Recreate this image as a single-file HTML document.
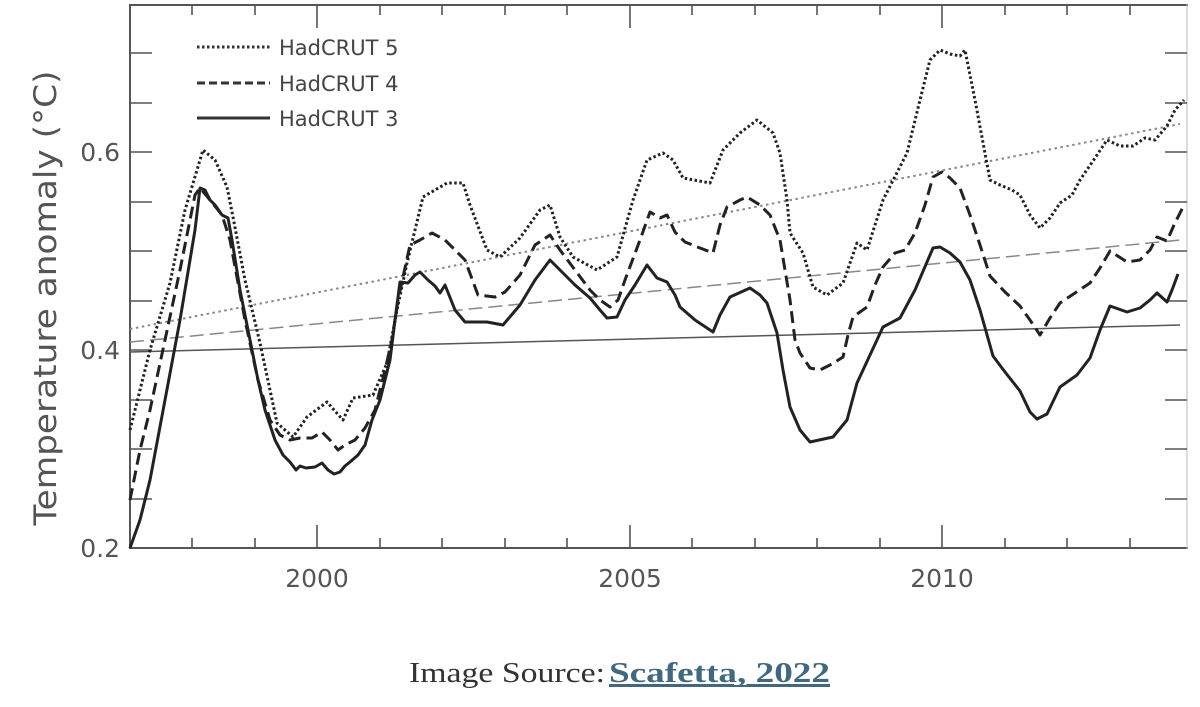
<!DOCTYPE html>
<html><head><meta charset="utf-8"><style>
html,body{margin:0;padding:0;background:#fff;width:1200px;height:707px;overflow:hidden}
svg{display:block}
</style></head><body>
<svg width="1200" height="707" viewBox="0 0 1200 707" xmlns="http://www.w3.org/2000/svg">
<g stroke="#555" stroke-width="2" fill="none">
<line x1="130" y1="4" x2="130" y2="549"/>
<line x1="129" y1="548" x2="1188" y2="548"/>
<line x1="129" y1="5" x2="1188" y2="5"/>
<line x1="1187" y1="4" x2="1187" y2="549" stroke="#bbb" stroke-width="1"/>
</g>
<g stroke="#555" stroke-width="1.6">
<path d="M130 53h22M130 103h22M130 152h22M130 202h22M130 251h22M130 301h22M130 350h22M130 400h22M130 449h22M130 499h22"/>
<path d="M1187 53h-22M1187 103h-22M1187 152h-22M1187 202h-22M1187 251h-22M1187 301h-22M1187 350h-22M1187 400h-22M1187 449h-22M1187 499h-22"/>
<path d="M192 548v-10M255 548v-10M317 548v-23M380 548v-10M442 548v-10M505 548v-10M567 548v-10M630 548v-23M692 548v-10M755 548v-10M817 548v-10M880 548v-10M942 548v-23M1005 548v-10M1067 548v-10M1130 548v-10"/>
<path d="M192 5v10M255 5v10M317 5v23M380 5v10M442 5v10M505 5v10M567 5v10M630 5v23M692 5v10M755 5v10M817 5v10M880 5v10M942 5v23M1005 5v10M1067 5v10M1130 5v10"/>
</g>
<g fill="none" stroke="#888" stroke-width="1.5">
<line x1="130" y1="352" x2="1180" y2="325" stroke="#555"/>
<line x1="130" y1="342" x2="1180" y2="240" stroke-dasharray="14,6"/>
<line x1="130" y1="329" x2="1180" y2="124" stroke-dasharray="2.5,3.5" stroke-width="2"/>
</g>
<g fill="none" stroke="#222" stroke-linejoin="round" stroke-linecap="butt">
<polyline stroke-width="3" points="130,548 140,520 150,480 165,400 180,320 195,230 200,188 205,190 210,200 215,205 222,215 228,218 232,240 240,290 250,340 258,380 265,410 275,440 283,455 290,462 296,470 300,466 306,468 315,467 322,463 328,470 334,474 340,472 345,466 350,462 358,455 365,445 372,420 380,400 390,360 395,320 400,282 408,283 415,275 420,272 428,280 435,286 440,293 445,285 455,310 465,322 475,322 487,322 503,325 520,305 535,280 550,260 560,270 575,285 590,298 600,310 607,318 617,317 625,300 635,285 647,265 657,278 667,282 675,295 680,307 695,320 713,332 720,315 730,297 750,288 760,295 767,303 777,333 783,370 790,407 800,430 810,442 833,437 847,420 857,383 870,355 883,327 900,318 915,290 933,248 940,247 950,253 960,262 970,280 980,310 993,356 1005,372 1020,391 1030,412 1037,419 1047,414 1060,387 1077,375 1090,358 1100,330 1110,306 1127,312 1140,308 1150,300 1157,293 1167,302 1172,290 1178,274"/>
<polyline stroke-width="3" stroke-dasharray="12,6" points="130,500 140,450 150,410 165,340 180,270 195,195 200,188 210,200 222,215 230,240 245,320 258,380 270,420 280,435 290,440 300,438 312,438 322,432 330,440 338,450 345,445 355,440 365,428 375,410 385,370 392,340 398,300 410,245 420,240 432,233 445,240 455,250 465,260 478,295 495,297 505,292 520,275 535,245 550,235 560,250 575,270 590,290 600,300 610,307 618,300 625,280 640,240 650,212 660,218 667,215 675,232 685,242 700,248 713,253 720,225 727,207 740,200 747,197 760,205 770,215 780,240 785,270 790,300 795,340 800,353 810,368 820,370 832,364 843,357 848,335 853,317 867,307 875,285 883,267 895,253 905,250 915,233 925,205 933,177 942,172 950,178 960,188 970,215 980,245 990,276 1005,292 1020,306 1030,320 1040,335 1050,318 1060,303 1075,293 1090,283 1100,268 1110,251 1127,262 1140,260 1150,250 1157,237 1167,241 1174,225 1184,205"/>
<polyline stroke-width="3" stroke-dasharray="2.5,2.5" points="130,430 150,350 170,283 185,210 203,150 215,160 227,187 233,217 245,280 260,343 277,423 293,437 307,417 327,402 343,420 353,398 373,395 387,363 397,310 407,263 423,197 447,183 463,183 470,205 487,250 500,257 520,238 540,210 550,205 560,237 573,257 597,270 617,257 633,200 647,160 663,153 673,160 683,178 710,183 723,150 740,133 757,120 773,133 780,153 787,200 790,233 803,253 813,287 827,295 843,283 857,243 867,250 883,200 907,153 920,100 930,60 940,50 950,54 960,56 965,50 975,100 990,180 1000,185 1012,190 1020,195 1030,215 1040,228 1050,218 1060,203 1072,195 1080,180 1095,158 1107,140 1120,146 1133,146 1145,138 1155,140 1167,126 1175,110 1184,100"/>
</g>
<g stroke="#333" stroke-width="3" fill="none">
<line x1="197" y1="47" x2="270" y2="47" stroke-dasharray="2.5,2.5"/>
<line x1="197" y1="83" x2="270" y2="83" stroke-dasharray="8,4"/>
<line x1="197" y1="118" x2="270" y2="118"/>
</g>
<g font-family="'DejaVu Sans', 'Liberation Sans', sans-serif" fill="#444" font-size="21">
<text x="279" y="55">HadCRUT 5</text>
<text x="279" y="91">HadCRUT 4</text>
<text x="279" y="126">HadCRUT 3</text>
</g>
<g font-family="'DejaVu Sans', 'Liberation Sans', sans-serif" fill="#555" font-size="25">
<text x="120" y="161" text-anchor="end">0.6</text>
<text x="120" y="359" text-anchor="end">0.4</text>
<text x="120" y="557" text-anchor="end">0.2</text>
<text x="317" y="587" text-anchor="middle">2000</text>
<text x="630" y="587" text-anchor="middle">2005</text>
<text x="942" y="587" text-anchor="middle">2010</text>
<text transform="translate(56,298) rotate(-90)" text-anchor="middle" font-size="31" textLength="455" lengthAdjust="spacingAndGlyphs">Temperature anomaly (°C)</text>
</g>
<text x="409" y="682" font-family="'Liberation Serif', serif" font-size="29" fill="#333" textLength="196" lengthAdjust="spacingAndGlyphs">Image Source:</text>
<text x="609" y="682" font-family="'Liberation Serif', serif" font-size="29" font-weight="bold" fill="#41687f" textLength="221" lengthAdjust="spacingAndGlyphs" text-decoration="underline">Scafetta, 2022</text>
<line x1="609" y1="686" x2="830" y2="686" stroke="#41687f" stroke-width="2"/>
</svg>
</body></html>
